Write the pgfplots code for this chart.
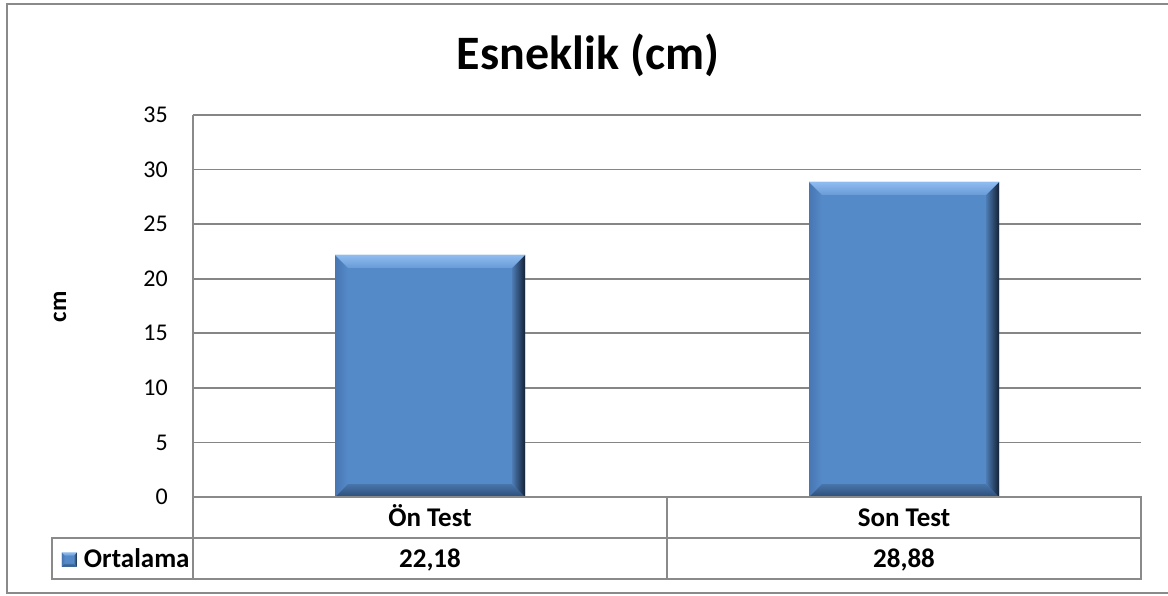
\documentclass[border=0pt]{standalone}
\usepackage{pgfplots}
\pgfplotsset{compat=1.18}
\usepackage{fontspec}
\setmainfont{Carlito}
\definecolor{barblue}{RGB}{85,138,201}
\definecolor{barlight}{RGB}{143,188,240}
\definecolor{barlight2}{RGB}{105,155,215}
\definecolor{bardark}{RGB}{20,34,55}
\definecolor{barbot}{RGB}{45,78,122}
\definecolor{barleft}{RGB}{72,118,178}
\definecolor{gridgray}{RGB}{134,134,134}
\definecolor{framegray}{RGB}{138,138,138}
\newif\ifinbevel

\tikzset{bevel/.style={path picture={\ifinbevel\else\global\inbeveltrue
  \path (path picture bounding box.north west) coordinate (bNW)
        (path picture bounding box.north east) coordinate (bNE)
        (path picture bounding box.south west) coordinate (bSW)
        (path picture bounding box.south east) coordinate (bSE);
  \shade[left color=barleft, right color=barblue] (bNW) -- ([shift={(#1,-#1)}]bNW) -- ([shift={(#1,#1)}]bSW) -- (bSW) -- cycle;
  \shade[top color=barblue!85!black, bottom color=barbot] (bSW) -- ([shift={(#1,#1)}]bSW) -- ([shift={(-#1,#1)}]bSE) -- (bSE) -- cycle;
  \shade[left color=barblue!90!black, right color=bardark] (bNE) -- (bSE) -- ([shift={(-#1,#1)}]bSE) -- ([shift={(-#1,-#1)}]bNE) -- cycle;
  \shade[top color=barlight, bottom color=barlight2] (bNW) -- (bNE) -- ([shift={(-#1,-#1)}]bNE) -- ([shift={(#1,-#1)}]bNW) -- cycle;
  \global\inbevelfalse\fi
}}}

\begin{document}
\begin{tikzpicture}
\useasboundingbox (0pt,0pt) rectangle (1168pt,-595pt);
% outer frame
\draw[framegray, line width=2pt] (1170pt,-4pt) -- (7pt,-4pt) -- (7pt,-593pt) -- (1170pt,-593pt);
% title
\node[anchor=base, font=\bfseries\fontsize{48}{58}\selectfont, inner sep=0pt] at (588pt,-69pt) {Esneklik (cm)};
% y label
\node[rotate=90, font=\bfseries\fontsize{25}{30}\selectfont, inner sep=0pt] at (60pt,-307pt) {cm};
\begin{axis}[
  at={(193pt,-497pt)}, anchor=south west,
  scale only axis, width=948pt, height=382pt,
  xmin=0, xmax=2, ymin=0, ymax=35,
  ytick={0,5,...,35}, xtick=\empty,
  ymajorgrids, grid style={gridgray, line width=1.6pt},
  axis line style={draw=none},
  major tick length=0pt,
  yticklabel style={font=\fontsize{24}{28}\selectfont, inner sep=0pt, xshift=-25pt},
  /pgf/number format/assume math mode=true,
  clip=false,
  legend style={at={(axis description cs:-0.1382,-0.161)}, anchor=west, draw=none, fill=none,
     font=\bfseries\fontsize{27}{32}\selectfont, inner sep=0pt, outer sep=0pt,
     /tikz/every odd column/.append style={column sep=5pt}},
  legend image code/.code={\fill[barblue, bevel=3pt] (0pt,-8pt) rectangle (15pt,6pt);},
]
\addplot[ybar, bar width=190pt, fill=barblue, draw=none, bevel=13pt] coordinates {(0.5,22.18)};
\addlegendentry{Ortalama}
\addplot[ybar, bar width=190pt, fill=barblue, draw=none, bevel=13pt, forget plot] coordinates {(1.5,28.88)};
\end{axis}
% y axis line and data table
\draw[framegray, line width=2pt] (193pt,-115pt) -- (193pt,-579pt);
\draw[framegray, line width=2pt] (193pt,-497pt) -- (1141pt,-497pt) -- (1141pt,-579pt) -- (52pt,-579pt) -- (52pt,-538pt) -- (1141pt,-538pt);
\draw[framegray, line width=2pt] (667pt,-497pt) -- (667pt,-579pt);
\begin{scope}[every node/.style={anchor=base, font=\bfseries\fontsize{27}{32}\selectfont, inner sep=0pt}]
\node at (430pt,-526pt) {Ön Test};
\node at (904pt,-526pt) {Son Test};
\node at (430pt,-567pt) {22,18};
\node at (904pt,-567pt) {28,88};
\end{scope}
\end{tikzpicture}
\end{document}
